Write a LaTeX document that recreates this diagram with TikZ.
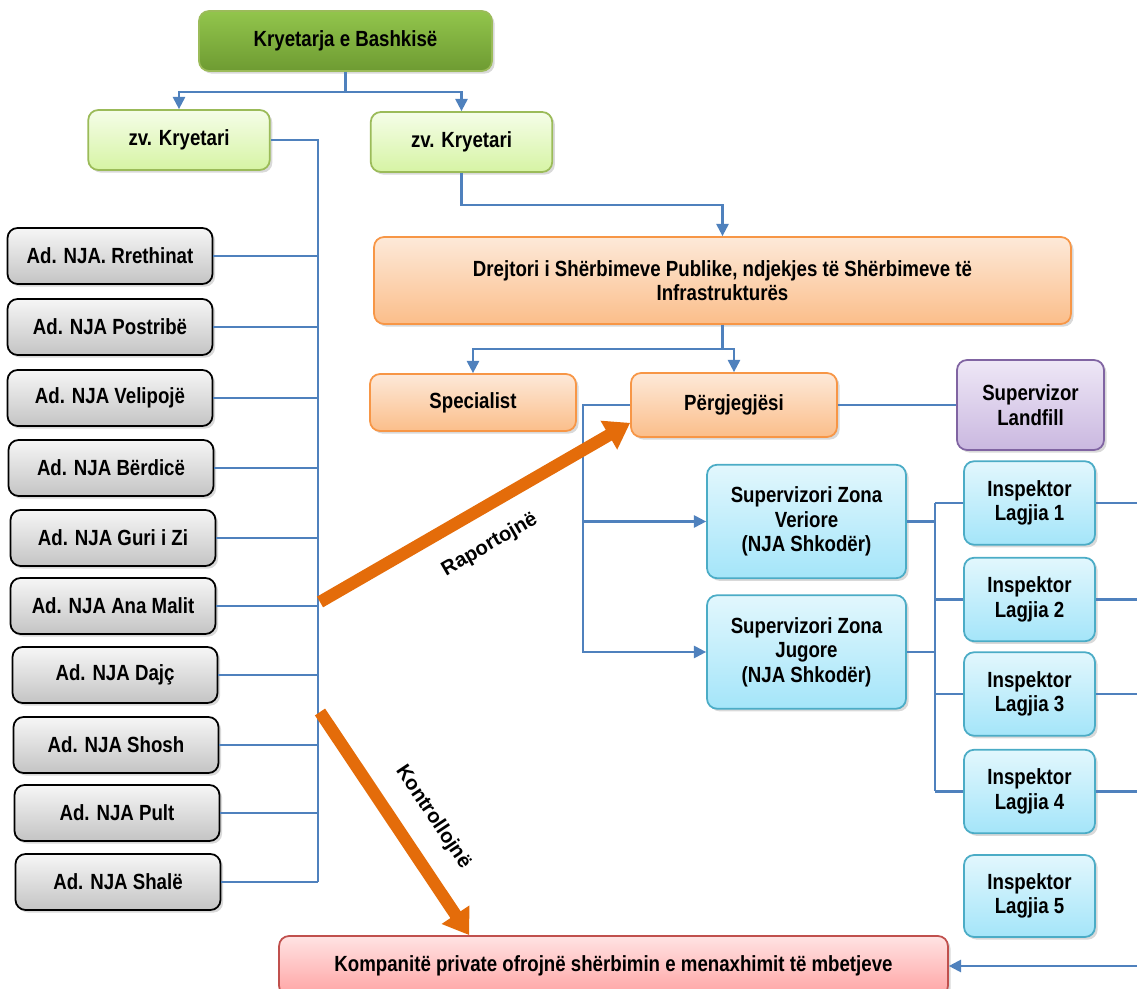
\documentclass[tikz,border=0pt]{standalone}
\usepackage{fontspec}
\setmainfont{Liberation Sans}[FakeStretch=0.85]
\newfontfamily\flowfont{Liberation Sans}
\usetikzlibrary{arrows.meta,shadows,calc}
\definecolor{linkblue}{HTML}{4F81BD}
\definecolor{arroworange}{HTML}{E46C0A}
\definecolor{greentop}{HTML}{92C54C}
\definecolor{greenbot}{HTML}{6E9B32}
\definecolor{greenline}{HTML}{9BBB59}
\definecolor{limetop}{HTML}{F5FDE8}
\definecolor{limebot}{HTML}{D6F4A4}
\definecolor{orangetop}{HTML}{FDE9D9}
\definecolor{orangebot}{HTML}{FBBE8A}
\definecolor{orangeline}{HTML}{F79646}
\definecolor{purpletop}{HTML}{EEE7F6}
\definecolor{purplebot}{HTML}{CAB8E0}
\definecolor{purpleline}{HTML}{8064A2}
\definecolor{cyantop}{HTML}{E2F7FD}
\definecolor{cyanbot}{HTML}{A4E5F9}
\definecolor{cyanline}{HTML}{4BACC6}
\definecolor{pinktop}{HTML}{FFE3E3}
\definecolor{pinkbot}{HTML}{FFA3A3}
\definecolor{pinkline}{HTML}{C0504D}
\definecolor{graytop}{HTML}{F6F6F6}
\definecolor{graybot}{HTML}{C4C4C4}

\begin{document}
\begin{tikzpicture}[x=0.02cm, y=-0.02cm, >={Triangle[width=7pt,length=7pt]},
  box/.style={draw, rounded corners=0.2cm, align=center, line width=1pt,
    font=\bfseries\fontsize{12.5}{14}\selectfont,
    drop shadow={shadow xshift=1.5pt, shadow yshift=-1.5pt, opacity=0.3}},
  chairbox/.style={box, draw=greenline, top color=greentop, bottom color=greenbot, minimum width=5.86cm, minimum height=1.2cm},
  deputybox/.style={box, draw=greenline, top color=limetop, bottom color=limebot, minimum width=3.63cm, minimum height=1.2cm},
  unitbox/.style={box, draw=black, top color=graytop, bottom color=graybot, minimum width=4.1cm, minimum height=1.12cm},
  orangebox/.style={box, draw=orangeline, top color=orangetop, bottom color=orangebot},
  purplebox/.style={box, draw=purpleline, top color=purpletop, bottom color=purplebot},
  cyanbox/.style={box, draw=cyanline, top color=cyantop, bottom color=cyanbot},
  pinkbox/.style={box, draw=pinkline, top color=pinktop, bottom color=pinkbot},
  link/.style={draw=linkblue, line width=1.2pt},
  flow/.style={draw=arroworange, line width=7pt, -{Triangle[width=18pt,length=14pt]}},
  flowlabel/.style={font=\flowfont\bfseries\fontsize{11.5}{14}\selectfont, sloped}]
  \useasboundingbox (0,0) rectangle (1137,989);

  % Nodes
  \node[chairbox] (chair) at (345.5,41) {Kryetarja e Bashkisë};
  \node[deputybox] (vcl) at (179,140) {zv. Kryetari};
  \node[deputybox] (vcr) at (461.5,142) {zv. Kryetari};

  \node[unitbox] (ad1) at (110,256) {Ad. NJA. Rrethinat};
  \node[unitbox] (ad2) at (110,327) {Ad. NJA Postribë};
  \node[unitbox] (ad3) at (110,398) {Ad. NJA Velipojë};
  \node[unitbox] (ad4) at (111,468) {Ad. NJA Bërdicë};
  \node[unitbox] (ad5) at (113,538) {Ad. NJA Guri i Zi};
  \node[unitbox] (ad6) at (113,606) {Ad. NJA Ana Malit};
  \node[unitbox] (ad7) at (115,675) {Ad. NJA Dajç};
  \node[unitbox] (ad8) at (116,745) {Ad. NJA Shosh};
  \node[unitbox] (ad9) at (117,813) {Ad. NJA Pult};
  \node[unitbox] (ad10) at (118,882) {Ad. NJA Shalë};

  \node[orangebox, minimum width=13.94cm, minimum height=1.74cm] (dir) at (722.5,280.5) {Drejtori i Shërbimeve Publike, ndjekjes të Shërbimeve të\\Infrastrukturës};
  \node[orangebox, minimum width=4.12cm, minimum height=1.14cm] (spec) at (473,402.5) {Specialist};
  \node[orangebox, minimum width=4.12cm, minimum height=1.28cm] (perg) at (734,405) {Përgjegjësi};
  \node[purplebox, minimum width=2.94cm, minimum height=1.8cm] (land) at (1030.5,405) {Supervizor\\Landfill};

  \node[cyanbox, minimum width=3.98cm, minimum height=2.27cm] (ver) at (806.5,521.5) {Supervizori Zona\\Veriore\\(NJA Shkodër)};
  \node[cyanbox, minimum width=3.98cm, minimum height=2.27cm] (jug) at (806.5,652) {Supervizori Zona\\Jugore\\(NJA Shkodër)};
  \node[cyanbox, minimum width=2.62cm, minimum height=1.67cm] (insp1) at (1029.5,503) {Inspektor\\Lagjia 1};
  \node[cyanbox, minimum width=2.62cm, minimum height=1.67cm] (insp2) at (1029.5,599.5) {Inspektor\\Lagjia 2};
  \node[cyanbox, minimum width=2.62cm, minimum height=1.67cm] (insp3) at (1029.5,694) {Inspektor\\Lagjia 3};
  \node[cyanbox, minimum width=2.62cm, minimum height=1.67cm] (insp4) at (1029.5,791.5) {Inspektor\\Lagjia 4};
  \node[cyanbox, minimum width=2.62cm, minimum height=1.64cm] (insp5) at (1029.5,896) {Inspektor\\Lagjia 5};

  \node[pinkbox, minimum width=13.38cm, minimum height=1.2cm] (komp) at (613.5,966) {Kompanitë private ofrojnë shërbimin e menaxhimit të mbetjeve};

  \coordinate (trunk) at (318,0);
  \coordinate (bus) at (935,0);
  \coordinate (edge) at (1137,0);
  \coordinate (repstart) at (320,602);
  \coordinate (ctrlstart) at (320,712);

  % Arrows
  \draw[link,->] (chair.south) -- ++(0,20) -| (vcl.north);
  \draw[link,->] (chair.south) -- ++(0,20) -| (vcr.north);
  \draw[link] (vcl.east) -| (ad10.east -| trunk);
  \draw[link] (ad1.east) -- (ad1.east -| trunk);
  \draw[link] (ad2.east) -- (ad2.east -| trunk);
  \draw[link] (ad3.east) -- (ad3.east -| trunk);
  \draw[link] (ad4.east) -- (ad4.east -| trunk);
  \draw[link] (ad5.east) -- (ad5.east -| trunk);
  \draw[link] (ad6.east) -- (ad6.east -| trunk);
  \draw[link] (ad7.east) -- (ad7.east -| trunk);
  \draw[link] (ad8.east) -- (ad8.east -| trunk);
  \draw[link] (ad9.east) -- (ad9.east -| trunk);
  \draw[link] (ad10.east) -- (ad10.east -| trunk);

  \draw[link,->] (vcr.south) -- ++(0,32) -| (dir.north);
  \draw[link,->] (dir.south) -- ++(0,24) -| (spec.north);
  \draw[link,->] (dir.south) -- ++(0,24) -| (perg.north);
  \draw[link] (perg.east) -- (land.west);
  \draw[link,->] (perg.west) -- ++(-47,0) |- (ver.west);
  \draw[link,->] (perg.west) -- ++(-47,0) |- (jug.west);

  \draw[link] (ver.east) -- (ver.east -| bus);
  \draw[link] (jug.east) -- (jug.east -| bus);
  \draw[link] (insp1.west -| bus) -- (insp4.west -| bus);
  \draw[link] (insp1.west) -- (insp1.west -| bus);
  \draw[link] (insp2.west) -- (insp2.west -| bus);
  \draw[link] (insp3.west) -- (insp3.west -| bus);
  \draw[link] (insp4.west) -- (insp4.west -| bus);
  \draw[link] (insp1.east) -- (insp1.east -| edge);
  \draw[link] (insp2.east) -- (insp2.east -| edge);
  \draw[link] (insp3.east) -- (insp3.east -| edge);
  \draw[link] (insp4.east) -- (insp4.east -| edge);
  \draw[link,->] (komp.east -| edge) -- (komp.east);

  \draw[flow] (repstart) -- ($(perg.south west)+(0,-15)$)
    node[flowlabel, pos=0.49, below=8pt] {Raportojnë};
  \draw[flow] (ctrlstart) -- ($(komp.north west)+(191,0)$)
    node[flowlabel, pos=0.56, above=8pt] {Kontrollojnë};
\end{tikzpicture}
\end{document}
